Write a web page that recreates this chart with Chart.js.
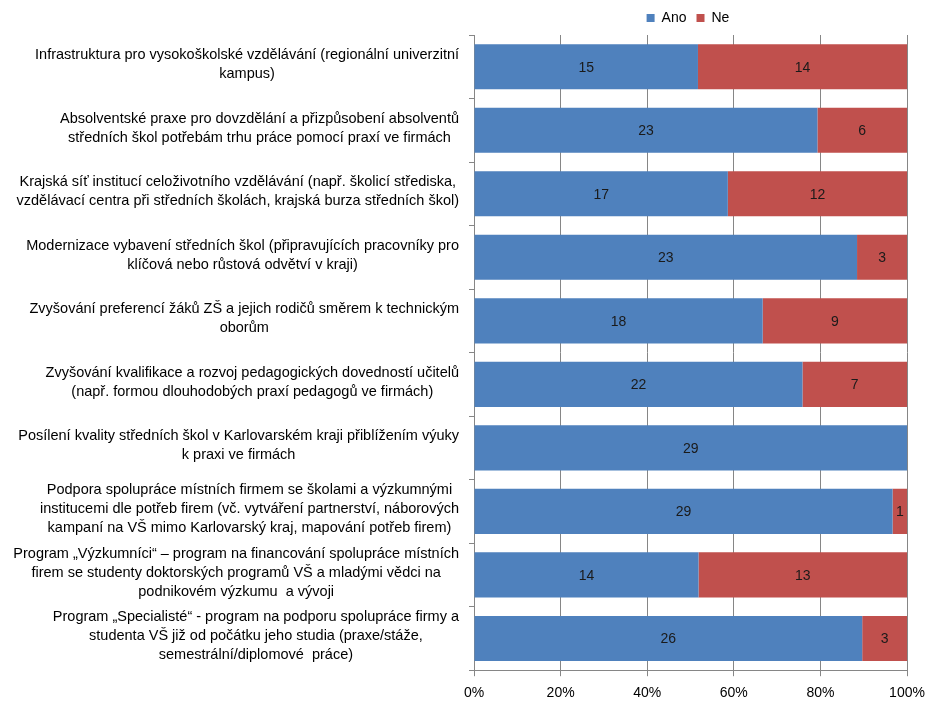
<!DOCTYPE html>
<html>
<head>
<meta charset="utf-8">
<script src="https://cdn.jsdelivr.net/npm/chart.js@4/dist/chart.umd.min.js"></script>
<style>
html,body{margin:0;padding:0;background:#fff;}
#wrap{width:939px;height:705px;position:relative;}
</style>
</head>
<body>
<div id="wrap"><canvas id="c" width="939" height="705"></canvas></div>
<script>
const categories = [
  ["Infrastruktura pro vysokoškolské vzdělávání (regionální univerzitní", "kampus)"],
  ["Absolventské praxe pro dovzdělání a přizpůsobení absolventů", "středních škol potřebám trhu práce pomocí praxí ve firmách"],
  ["Krajská síť institucí celoživotního vzdělávání (např. školicí střediska,", "vzdělávací centra při středních školách, krajská burza středních škol)"],
  ["Modernizace vybavení středních škol (připravujících pracovníky pro", "klíčová nebo růstová odvětví v kraji)"],
  ["Zvyšování preferencí žáků ZŠ a jejich rodičů směrem k technickým", "oborům"],
  ["Zvyšování kvalifikace a rozvoj pedagogických dovedností učitelů", "(např. formou dlouhodobých praxí pedagogů ve firmách)"],
  ["Posílení kvality středních škol v Karlovarském kraji přiblížením výuky", "k praxi ve firmách"],
  ["Podpora spolupráce místních firmem se školami a výzkumnými", "institucemi dle potřeb firem (vč. vytváření partnerství, náborových", "kampaní na VŠ mimo Karlovarský kraj, mapování potřeb firem)"],
  ["Program „Výzkumníci“ – program na financování spolupráce místních", "firem se studenty doktorských programů VŠ a mladými vědci na", "podnikovém výzkumu  a vývoji"],
  ["Program „Specialisté“ - program na podporu spolupráce firmy a", "studenta VŠ již od počátku jeho studia (praxe/stáže,", "semestrální/diplomové  práce)"]
];
const seriesNames = ["Ano", "Ne"];
const ano = [15, 23, 17, 23, 18, 22, 29, 29, 14, 26];
const ne  = [14, 6, 12, 3, 9, 7, 0, 1, 13, 3];
const xTicks = [0, 20, 40, 60, 80, 100];

const FONT = "'Liberation Sans', Arial, sans-serif";
const totals = ano.map((v, i) => v + ne[i]);
const anoPct = ano.map((v, i) => v / totals[i] * 100);
const nePct = ne.map((v, i) => v / totals[i] * 100);
const counts = [ano, ne];

const labelPlugin = {
  id: 'customLabels',
  afterDatasetsDraw(chart) {
    const ctx = chart.ctx;
    ctx.save();
    ctx.font = "14px " + FONT;
    ctx.fillStyle = "#1a1a1a";
    ctx.textAlign = "center";
    ctx.textBaseline = "middle";
    chart.data.datasets.forEach((ds, di) => {
      const meta = chart.getDatasetMeta(di);
      meta.data.forEach((el, i) => {
        const v = counts[di][i];
        if (!v) return;
        ctx.fillText(String(v), (el.x + el.base) / 2, el.y + 1);
      });
    });
    // category labels
    const ys = chart.scales.y;
    const rightX = ys.left - 10;
    const lh = 19;
    ctx.font = "14.5px " + FONT;
    ctx.fillStyle = "#000";
    categories.forEach((lines, i) => {
      const y = ys.getPixelForValue(i);
      let maxW = 0;
      lines.forEach(l => { maxW = Math.max(maxW, ctx.measureText(l).width); });
      const cx = rightX - maxW / 2;
      const y0 = y - (lines.length - 1) * lh / 2 - 2;
      lines.forEach((l, k) => ctx.fillText(l, cx, y0 + k * lh));
    });
    ctx.restore();
  }
};

new Chart(document.getElementById('c'), {
  type: 'bar',
  data: {
    labels: categories.map((c, i) => String(i)),
    datasets: [
      { label: seriesNames[0], data: anoPct, backgroundColor: '#4F81BD', borderWidth: 0 },
      { label: seriesNames[1], data: nePct, backgroundColor: '#C0504D', borderWidth: 0 }
    ]
  },
  options: {
    indexAxis: 'y',
    responsive: false,
    animation: false,
    devicePixelRatio: 1,
    layout: { padding: { left: 469, right: 32, top: 1, bottom: -6 } },
    datasets: { bar: { categoryPercentage: 1, barPercentage: 0.71 } },
    scales: {
      x: {
        stacked: true,
        min: 0, max: 100,
        afterBuildTicks: (s) => { s.ticks = xTicks.map(v => ({ value: v })); },
        ticks: {
          callback: (v) => v + '%',
          color: '#000',
          font: { family: FONT, size: 14 },
          padding: 9,
          maxRotation: 0
        },
        grid: { color: '#868686', lineWidth: 1, tickLength: 6, drawTicks: true },
        border: { display: true, color: '#868686' }
      },
      y: {
        stacked: true,
        ticks: { display: false },
        grid: { drawOnChartArea: false, drawTicks: true, tickLength: 5, color: '#868686', offset: true },
        border: { display: true, color: '#868686' }
      }
    },
    plugins: {
      legend: {
        position: 'top',
        labels: {
          boxWidth: 8, boxHeight: 8,
          color: '#000',
          font: { family: FONT, size: 14 },
          padding: 10
        }
      },
      tooltip: { enabled: false }
    }
  },
  plugins: [labelPlugin]
});
</script>
</body>
</html>
